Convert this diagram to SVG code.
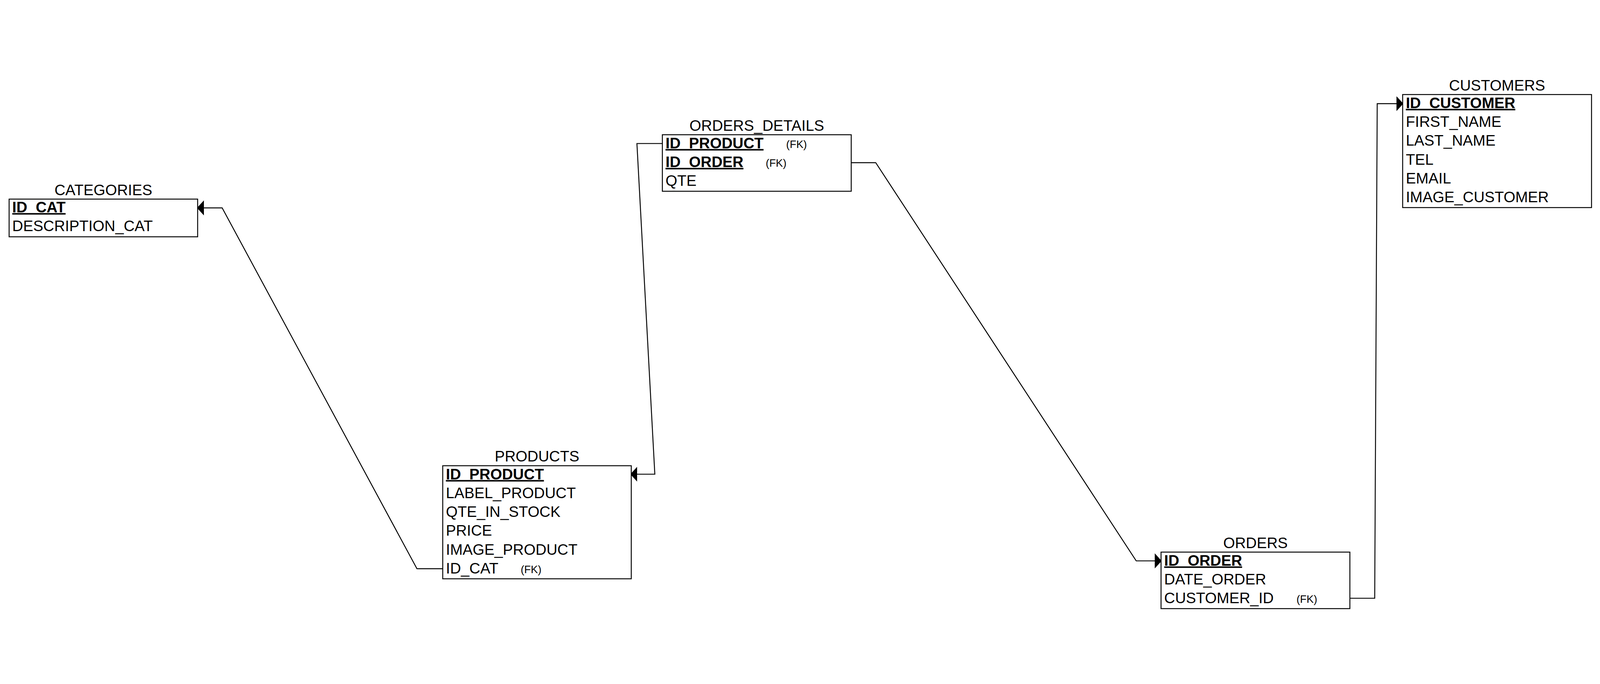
<svg xmlns="http://www.w3.org/2000/svg" width="5092" height="1752" viewBox="0 0 5092 1752" style="max-width:100vw;max-height:100vh">
<defs>
<style>
text{font-family:"Liberation Sans",Arial,sans-serif;fill:#000}
.title{font-size:48px;text-anchor:middle}
.f{font-size:48px}
.pk{font-size:48px;font-weight:bold;text-decoration:underline}
.fk{font-size:34px}
.box{fill:#fff;stroke:#000;stroke-width:3}
.conn{fill:none;stroke:#000;stroke-width:3;stroke-linejoin:miter}
</style>
<marker id="arrow" viewBox="0 0 22 48" refX="22" refY="24" markerWidth="22" markerHeight="48" markerUnits="userSpaceOnUse" orient="auto">
<path d="M0 0 L22 24 L0 48 Z" fill="#000"/>
</marker>
</defs>
<rect width="5092" height="1752" fill="#fff"/>
<g id="connectors">
<path class="conn" d="M1409 1598 L1327 1598 L707 449 L627 449" marker-end="url(#arrow)"/>
<path class="conn" d="M2108 244 L2027 244 L2084 1297 L2006 1297" marker-end="url(#arrow)"/>
<path class="conn" d="M2709 305 L2787 305 L3616 1573 L3697 1573" marker-end="url(#arrow)"/>
<path class="conn" d="M4296 1692 L4375 1692 L4383 117 L4466 117" marker-end="url(#arrow)"/>
</g>
<g id="categories">
<text class="title" x="329" y="408">CATEGORIES</text>
<rect class="box" x="29" y="421" width="600" height="120"/>
<text class="pk" x="39" y="463">ID_CAT</text>
<text class="f" x="39" y="523">DESCRIPTION_CAT</text>
</g>
<g id="orders_details">
<text class="title" x="2408.5" y="204">ORDERS_DETAILS</text>
<rect class="box" x="2108" y="216" width="601" height="180"/>
<text class="pk" x="2118" y="259">ID_PRODUCT</text>
<text class="fk" x="2502" y="258">(FK)</text>
<text class="pk" x="2118" y="319">ID_ORDER</text>
<text class="fk" x="2437" y="318">(FK)</text>
<text class="f" x="2118" y="379">QTE</text>
</g>
<g id="products">
<text class="title" x="1709" y="1257">PRODUCTS</text>
<rect class="box" x="1409" y="1270" width="600" height="360"/>
<text class="pk" x="1419" y="1313">ID_PRODUCT</text>
<text class="f" x="1419" y="1373">LABEL_PRODUCT</text>
<text class="f" x="1419" y="1433">QTE_IN_STOCK</text>
<text class="f" x="1419" y="1493">PRICE</text>
<text class="f" x="1419" y="1553">IMAGE_PRODUCT</text>
<text class="f" x="1419" y="1613">ID_CAT</text>
<text class="fk" x="1657" y="1612">(FK)</text>
</g>
<g id="orders">
<text class="title" x="3995.5" y="1532">ORDERS</text>
<rect class="box" x="3695" y="1545" width="601" height="180"/>
<text class="pk" x="3705" y="1588">ID_ORDER</text>
<text class="f" x="3705" y="1648">DATE_ORDER</text>
<text class="f" x="3705" y="1708">CUSTOMER_ID</text>
<text class="fk" x="4126" y="1707">(FK)</text>
</g>
<g id="customers">
<text class="title" x="4764.5" y="75">CUSTOMERS</text>
<rect class="box" x="4464" y="88" width="601" height="360"/>
<text class="pk" x="4474" y="131">ID_CUSTOMER</text>
<text class="f" x="4474" y="191">FIRST_NAME</text>
<text class="f" x="4474" y="251">LAST_NAME</text>
<text class="f" x="4474" y="311">TEL</text>
<text class="f" x="4474" y="371">EMAIL</text>
<text class="f" x="4474" y="431">IMAGE_CUSTOMER</text>
</g>
</svg>
